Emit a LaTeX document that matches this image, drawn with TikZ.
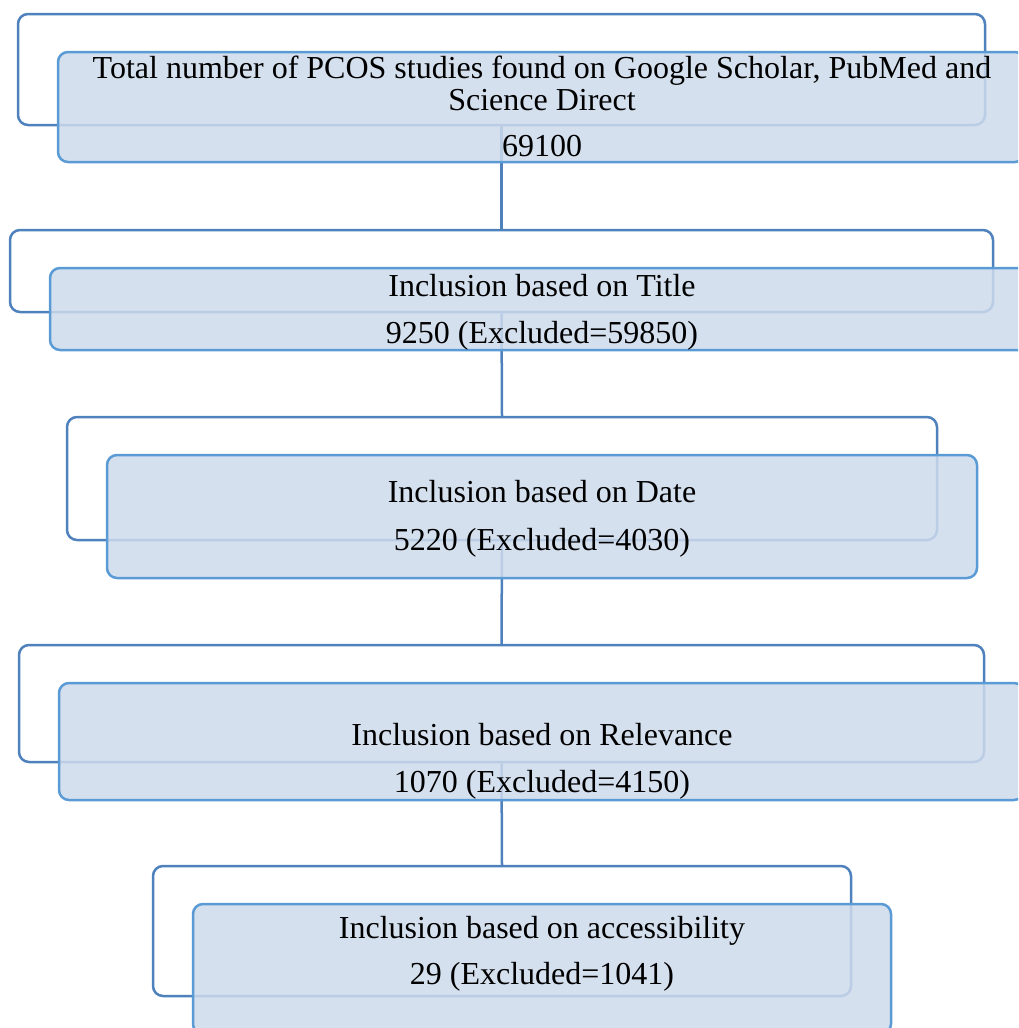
\documentclass[tikz,border=0pt]{standalone}
\usepackage{fontspec}
\setmainfont{Liberation Serif}
\usetikzlibrary{positioning,calc}
\definecolor{bordfond}{RGB}{79,129,189}
\definecolor{bordcarte}{RGB}{91,155,213}
\definecolor{fondcarte}{RGB}{206,219,236}

\begin{document}
\begin{tikzpicture}[x=0.5pt,y=-0.5pt]
\tikzstyle{cadre}=[draw=bordfond,line width=1.25pt,rounded corners=5pt,fill=white,inner sep=0pt]
\tikzstyle{carte}=[draw=bordcarte,line width=1.25pt,rounded corners=5pt,fill=fondcarte,fill opacity=0.85,inner sep=0pt]
\tikzstyle{lien}=[draw=bordfond,line width=1.25pt]
\tikzstyle{texte}=[anchor=base,inner sep=0pt,font=\fontsize{16}{17}\selectfont]
\def\Px{0.5pt}
\useasboundingbox (0,0) rectangle (1018,1028);
\clip (0,0) rectangle (1018,1028);
% cadres du fond
\node[cadre,minimum width={967*\Px},minimum height={111*\Px}] (B1) at (501.5,69.5) {};
\node[cadre,minimum width={983*\Px},minimum height={82*\Px}] (B2) at (501.5,271) {};
\node[cadre,minimum width={870*\Px},minimum height={123*\Px}] (B3) at (502,478.5) {};
\node[cadre,minimum width={965*\Px},minimum height={117*\Px}] (B4) at (501.5,703.5) {};
\node[cadre,minimum width={698*\Px},minimum height={130*\Px}] (B5) at (502,931) {};
% liens
\draw[lien] (B1.south)--(B2.north);
\draw[lien] (B2.south)--(B3.north);
\draw[lien] (B3.south)--(B4.north);
\draw[lien] (B4.south)--(B5.north);
% cartes
\node[carte,minimum width={967*\Px},minimum height={110*\Px}] (C1) at (541.5,107) {};
\node[carte,minimum width={983*\Px},minimum height={82*\Px}] (C2) at (541.5,309) {};
\node[carte,minimum width={870*\Px},minimum height={123*\Px}] (C3) at (542,516.5) {};
\node[carte,minimum width={965*\Px},minimum height={117*\Px}] (C4) at (541.5,741.5) {};
\node[carte,minimum width={698*\Px},minimum height={130*\Px}] (C5) at (542,969) {};
% textes
\node[texte] (T1a) at (542,78) {Total number of PCOS studies found on Google Scholar, PubMed and};
\node[texte] (T1b) at (542,110) {Science Direct};
\node[texte] (T1c) at (542,156) {69100};
\node[texte] (T2a) at (542,296) {Inclusion based on Title};
\node[texte] (T2b) at (542,343) {9250 (Excluded=59850)};
\node[texte] (T3a) at (542,502) {Inclusion based on Date};
\node[texte] (T3b) at (542,550) {5220 (Excluded=4030)};
\node[texte] (T4a) at (542,745) {Inclusion based on Relevance};
\node[texte] (T4b) at (542,792) {1070 (Excluded=4150)};
\node[texte] (T5a) at (542,938) {Inclusion based on accessibility};
\node[texte] (T5b) at (542,984) {29 (Excluded=1041)};
\end{tikzpicture}
\end{document}
